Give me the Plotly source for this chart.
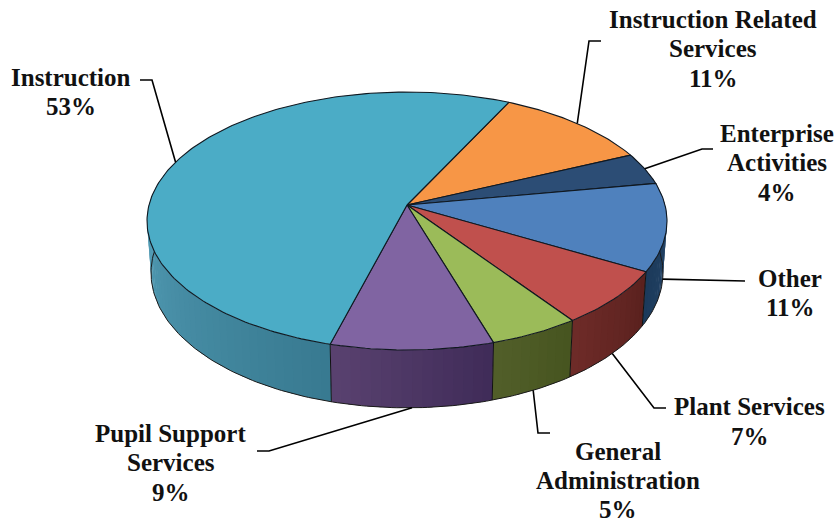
import math
import plotly.graph_objects as go

# Budget shares, listed clockwise from the Instruction Related slice
categories = ["Instruction Related Services", "Enterprise Activities", "Other",
              "Plant Services", "General Administration", "Pupil Support Services", "Instruction"]
shares = [11, 4, 11, 7, 5, 9, 53]

# Text lines and centres of each category label
label_lines = [["Instruction Related", "Services"], ["Enterprise", "Activities"], ["Other"],
               ["Plant Services"], ["General", "Administration"], ["Pupil Support", "Services"], ["Instruction"]]
label_centres = [(713, 19), (776.5, 133), (790, 278), (749.7, 406.5), (618, 451.5), (170.5, 433), (71, 77)]
line_steps = [29.5, 29.5, 29.5, 29.5, 29, 29.5, 29.5]

# Leader elbows running from the disc out to each label
leader_tails = [[(589, 41), (601, 41)], [(702, 149), (713, 149)], [(745, 281)],
                [(654, 408), (666, 408)], [(538, 433), (550, 433)], [(269, 451), (257, 451)],
                [(152, 80), (140, 80)]]

top_colours = ["#f79646", "#2c4d75", "#4f81bd", "#c0504d", "#9bbb59", "#8064a2", "#4bacc6"]
side_colours = [("#a0602a", "#a0602a"), ("#1d3a5c", "#1d3a5c"), ("#27496f", "#1c3a5a"),
                ("#5a211e", "#6e2b28"), ("#46541f", "#525f2a"), ("#3f2b58", "#5a4270"),
                ("#387a90", "#5aa6c0")]

# Perspective disc: the far edge is foreshortened relative to the near edge
START_ANGLE = 26.0
CX, K = 407.0, 0.124
TOP_CY, TOP_A, TOP_B = 205.0, 258.0, 127.0
BASE_CY, BASE_A, BASE_B = 256.0, 254.0, 133.0


def project(theta, cy, a, b):
    t = math.radians(theta)
    u, v = math.sin(t), math.cos(t)
    d = 1 + K * v
    return CX + a * u / d, cy - b * v / d


def on_top(theta):
    return project(theta, TOP_CY, TOP_A, TOP_B)


def on_base(theta):
    return project(theta, BASE_CY, BASE_A, BASE_B)


def mix(c1, c2, f):
    p = [int(c1[i:i + 2], 16) for i in (1, 3, 5)]
    q = [int(c2[i:i + 2], 16) for i in (1, 3, 5)]
    return "rgb({},{},{})".format(*[round(a + (b - a) * f) for a, b in zip(p, q)])


edges = [START_ANGLE]
for s in shares:
    edges.append(edges[-1] + s * 3.6)

fig = go.Figure()


def poly(pts, fill=None, line="#000000", width=1.0, closed=True):
    xs, ys = zip(*pts)
    fig.add_trace(go.Scatter(
        x=xs, y=ys, mode="lines", hoverinfo="skip", showlegend=False,
        fill="toself" if closed else "none", fillcolor=fill,
        line=dict(color=line, width=width)))


# Rim: thin overlapping strips shaded along each slice
SIDE_FROM, SIDE_TO = 70.0, 290.0
for i, (lo, hi) in enumerate(zip(edges, edges[1:])):
    lo_v, hi_v = max(lo, SIDE_FROM), min(hi, SIDE_TO)
    if hi_v <= lo_v:
        continue
    n = max(1, int((hi_v - lo_v) / 2))
    for j in range(n):
        a0 = lo_v + (hi_v - lo_v) * j / n
        a1 = lo_v + (hi_v - lo_v) * (j + 1) / n
        if j < n - 1:
            a1 += 0.6
        col = mix(side_colours[i][0], side_colours[i][1], (j + 0.5) / n)
        poly([on_top(a0), on_top(a1), on_base(a1), on_base(a0), on_top(a0)], fill=col, line=col, width=0)

# Rim outline and seams between slices
arc = [SIDE_FROM + k for k in range(int(SIDE_TO - SIDE_FROM) + 1)]
poly([on_base(a) for a in arc], line="#1a1a1a", width=1.0, closed=False)
for e in edges[1:]:
    if SIDE_FROM < e < SIDE_TO:
        poly([on_top(e), on_base(e)], line="#111111", width=1.0, closed=False)

# Upper faces
for i, (lo, hi) in enumerate(zip(edges, edges[1:])):
    n = max(2, int(hi - lo))
    pts = [on_top(lo + (hi - lo) * j / n) for j in range(n + 1)]
    pts = [(CX, TOP_CY)] + pts + [(CX, TOP_CY)]
    poly(pts, fill=top_colours[i], line="#101820", width=1.1)

# Leaders start at the mid-angle of each slice, on the visible edge
for i, (lo, hi) in enumerate(zip(edges, edges[1:])):
    mid = (lo + hi) / 2
    start = on_base(mid) if 95 < mid % 360 < 265 else on_top(mid)
    poly([start] + leader_tails[i], line="#000000", width=1.6, closed=False)

annotations = []
for i, lines in enumerate(label_lines):
    cx, cy = label_centres[i]
    for k, text in enumerate(lines + [f"{shares[i]}%"]):
        annotations.append(dict(
            x=cx, y=cy + k * line_steps[i], text=text, showarrow=False,
            xanchor="center", yanchor="middle",
            font=dict(family="Liberation Serif", size=25, color="#111111", weight=700)))

fig.update_layout(
    width=836, height=523, margin=dict(l=0, r=0, t=0, b=0),
    paper_bgcolor="white", plot_bgcolor="white", annotations=annotations,
    xaxis=dict(range=[0, 836], visible=False, fixedrange=True),
    yaxis=dict(range=[523, 0], visible=False, fixedrange=True))
fig.write_html("out.html", config=dict(displayModeBar=False))
